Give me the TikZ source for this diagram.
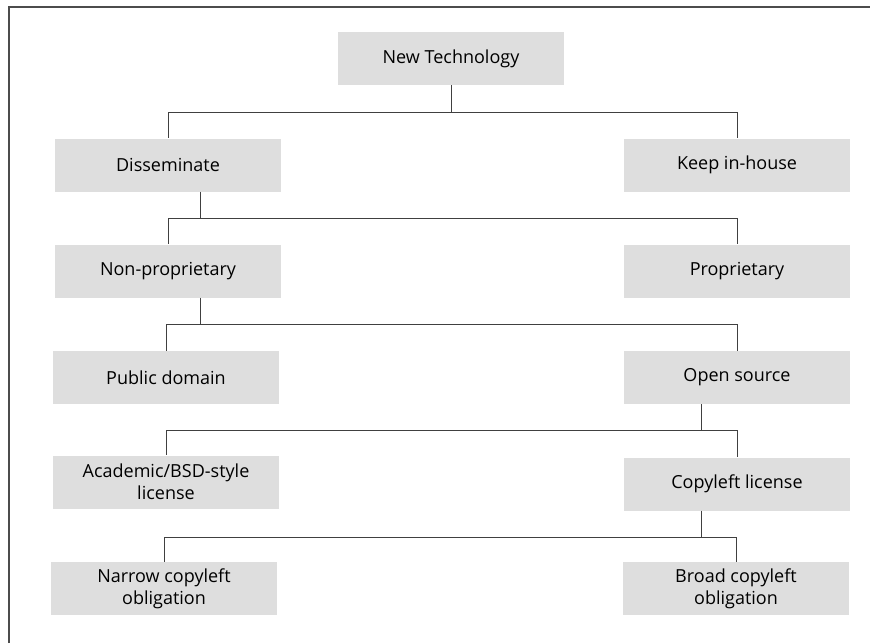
\documentclass[tikz,border=0pt]{standalone}
\usepackage{fontspec}
\setmainfont{Open Sans}

\begin{document}
\begin{tikzpicture}[x=1pt,y=-1pt,
    box/.style={fill=black!13, minimum width=226pt, minimum height=53pt,
        align=center, inner sep=2pt, font=\fontsize{18}{22}\selectfont},
    link/.style={draw=black!75, line width=0.8pt}]
    \useasboundingbox (0,0) rectangle (870,643);
    \draw[black!70, line width=1.4pt] (9,643) -- (9,7) -- (870,7);
    % the boxes
    \node[box] (tech) at (451,58.5) {New Technology};
    \node[box] (dissem) at (168,165) {Disseminate};
    \node[box] (keep) at (737,165) {Keep in-house};
    \node[box] (nonprop) at (168,271) {Non-proprietary};
    \node[box] (prop) at (737,271) {Proprietary};
    \node[box] (public) at (166,377.5) {Public domain};
    \node[box] (open) at (737,377.5) {Open source};
    \node[box] (bsd) at (166,482) {Academic/BSD-style\\license};
    \node[box] (copyleft) at (737,484) {Copyleft license};
    \node[box] (narrow) at (164,588.5) {Narrow copyleft\\obligation};
    \node[box] (broad) at (736,588.5) {Broad copyleft\\obligation};
    % the branch points
    \coordinate (j1) at (451,112);
    \coordinate (j2) at (200,218);
    \coordinate (j3) at (200,324);
    \coordinate (j4) at (701,430);
    \coordinate (j5) at (701,537);
    \draw[link] (tech.south) -- (j1) -| (dissem.north);
    \draw[link] (j1) -| (keep.north);
    \draw[link] (dissem.south -| j2) -- (j2) -| (nonprop.north);
    \draw[link] (j2) -| (prop.north);
    \draw[link] (nonprop.south -| j3) -- (j3) -| (public.north);
    \draw[link] (j3) -| (open.north);
    \draw[link] (open.south -| j4) -- (j4) -| (bsd.north);
    \draw[link] (j4) -| (copyleft.north);
    \draw[link] (copyleft.south -| j5) -- (j5) -| (narrow.north);
    \draw[link] (j5) -| (broad.north);
\end{tikzpicture}
\end{document}
